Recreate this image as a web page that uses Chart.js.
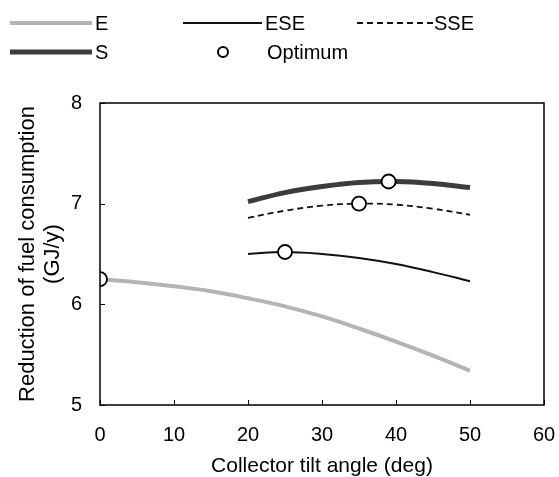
<!DOCTYPE html>
<html>
<head>
<meta charset="utf-8">
<script src="https://cdn.jsdelivr.net/npm/chart.js@4/dist/chart.umd.min.js"></script>
<style>
  html, body { margin: 0; padding: 0; background: #fff; }
  #wrap { width: 559px; height: 477px; }
</style>
</head>
<body>
<div id="wrap"><canvas id="chart"></canvas></div>
<script>
// Tilt angles (deg) and fuel savings (GJ/y) for each collector azimuth
const anglesE = [0, 5, 10, 15, 20, 25, 30, 35, 40, 45, 50];
const valuesE = [6.25, 6.22, 6.18, 6.13, 6.06, 5.98, 5.88, 5.76, 5.63, 5.49, 5.34];

const anglesOther = [20, 25, 30, 35, 40, 45, 50];
const valuesESE = [6.50, 6.52, 6.50, 6.46, 6.40, 6.32, 6.23];
const valuesSSE = [6.86, 6.93, 6.98, 7.00, 6.99, 6.95, 6.89];
const valuesS = [7.02, 7.11, 7.17, 7.21, 7.22, 7.20, 7.16];

const optimumAngles = [0, 25, 35, 39];
const optimumValues = [6.25, 6.52, 7.00, 7.22];

const xTicks = [0, 10, 20, 30, 40, 50, 60];
const yTicks = [5, 6, 7, 8];

const FONT = "'Liberation Sans', Arial, sans-serif";

function toPoints(xs, ys) {
  return xs.map((x, i) => ({ x: x, y: ys[i] }));
}

const lineBase = {
  pointRadius: 0,
  fill: false,
  tension: 0.4,
  order: 1
};

// inward tick marks + full frame around the plot
const framePlugin = {
  id: 'frame',
  afterDatasetsDraw(chart) {
    const { ctx, chartArea: a, scales } = chart;
    ctx.save();
    ctx.strokeStyle = '#000';
    ctx.lineWidth = 1;
    scales.x.ticks.forEach(t => {
      const px = Math.round(scales.x.getPixelForValue(t.value)) + 0.5;
      ctx.beginPath();
      ctx.moveTo(px, a.bottom);
      ctx.lineTo(px, a.bottom - 5);
      ctx.stroke();
    });
    scales.y.ticks.forEach(t => {
      const py = Math.round(scales.y.getPixelForValue(t.value)) + 0.5;
      ctx.beginPath();
      ctx.moveTo(a.left, py);
      ctx.lineTo(a.left + 5, py);
      ctx.stroke();
    });
    ctx.lineWidth = 1.5;
    ctx.strokeRect(a.left, a.top, a.right - a.left, a.bottom - a.top);
    ctx.restore();
  }
};

// two-row legend across the top
const legendPlugin = {
  id: 'topLegend',
  afterDraw(chart) {
    const { ctx } = chart;
    const ds = chart.data.datasets;
    const items = [
      { i: 0, x0: 10, x1: 92, y: 23, tx: 95 },
      { i: 1, x0: 183, x1: 262, y: 23, tx: 265 },
      { i: 2, x0: 357, x1: 433, y: 23, tx: 434 },
      { i: 3, x0: 10, x1: 92, y: 52, tx: 95 },
      { i: 4, cx: 223, y: 52, tx: 267 }
    ];
    ctx.save();
    ctx.font = '20px ' + FONT;
    ctx.textBaseline = 'middle';
    ctx.fillStyle = '#000';
    items.forEach(it => {
      const d = ds[it.i];
      if (it.cx !== undefined) {
        ctx.beginPath();
        ctx.arc(it.cx, it.y, 5, 0, Math.PI * 2);
        ctx.fillStyle = d.backgroundColor;
        ctx.fill();
        ctx.strokeStyle = d.borderColor;
        ctx.lineWidth = 2;
        ctx.stroke();
      } else {
        ctx.beginPath();
        ctx.setLineDash(d.borderDash || []);
        ctx.strokeStyle = d.borderColor;
        ctx.lineWidth = d.borderWidth;
        ctx.moveTo(it.x0, it.y);
        ctx.lineTo(it.x1, it.y);
        ctx.stroke();
        ctx.setLineDash([]);
      }
      ctx.fillStyle = '#000';
      ctx.fillText(d.label, it.tx, it.y + 1);
    });
    ctx.restore();
  }
};

new Chart(document.getElementById('chart'), {
  type: 'line',
  data: {
    datasets: [
      Object.assign({}, lineBase, {
        label: 'E',
        data: toPoints(anglesE, valuesE),
        borderColor: '#b4b4b4',
        borderWidth: 4
      }),
      Object.assign({}, lineBase, {
        label: 'ESE',
        data: toPoints(anglesOther, valuesESE),
        borderColor: '#111',
        borderWidth: 2
      }),
      Object.assign({}, lineBase, {
        label: 'SSE',
        data: toPoints(anglesOther, valuesSSE),
        borderColor: '#111',
        borderWidth: 1.8,
        borderDash: [6, 4]
      }),
      Object.assign({}, lineBase, {
        label: 'S',
        data: toPoints(anglesOther, valuesS),
        borderColor: '#3c3c3c',
        borderWidth: 5
      }),
      {
        label: 'Optimum',
        data: toPoints(optimumAngles, optimumValues),
        showLine: false,
        pointRadius: 7,
        pointBorderWidth: 1.8,
        pointBackgroundColor: '#fff',
        pointBorderColor: '#000',
        backgroundColor: '#fff',
        borderColor: '#000',
        order: 0
      }
    ]
  },
  options: {
    responsive: true,
    maintainAspectRatio: false,
    animation: false,
    events: [],
    layout: { padding: { top: 103, right: 15, bottom: 0, left: 0 } },
    plugins: {
      legend: { display: false },
      tooltip: { enabled: false }
    },
    scales: {
      x: {
        type: 'linear',
        min: 0,
        max: 60,
        afterBuildTicks: s => { s.ticks = xTicks.map(v => ({ value: v })); },
        afterFit: s => {
          s.height = 72;
          // the "60" label may spill into the right margin
          s.paddingLeft = 0;
          s.paddingRight = 0;
        },
        grid: { display: false, drawTicks: false },
        border: { display: false },
        ticks: { padding: 18, color: '#000', font: { family: FONT, size: 20 } },
        title: {
          display: true,
          text: 'Collector tilt angle (deg)',
          color: '#000',
          padding: 0,
          font: { family: FONT, size: 21, lineHeight: 1 }
        }
      },
      y: {
        type: 'linear',
        min: 5,
        max: 8,
        afterBuildTicks: s => { s.ticks = yTicks.map(v => ({ value: v })); },
        afterFit: s => { s.width = 100; },
        grid: { display: false, drawTicks: false },
        border: { display: false },
        ticks: { padding: 18, color: '#000', font: { family: FONT, size: 20 } },
        title: {
          display: true,
          text: ['Reduction of fuel consumption', '(GJ/y)'],
          color: '#000',
          padding: { top: 15, bottom: 0 },
          font: { family: FONT, size: 22, lineHeight: 1.15 }
        }
      }
    }
  },
  plugins: [framePlugin, legendPlugin]
});
</script>
</body>
</html>
